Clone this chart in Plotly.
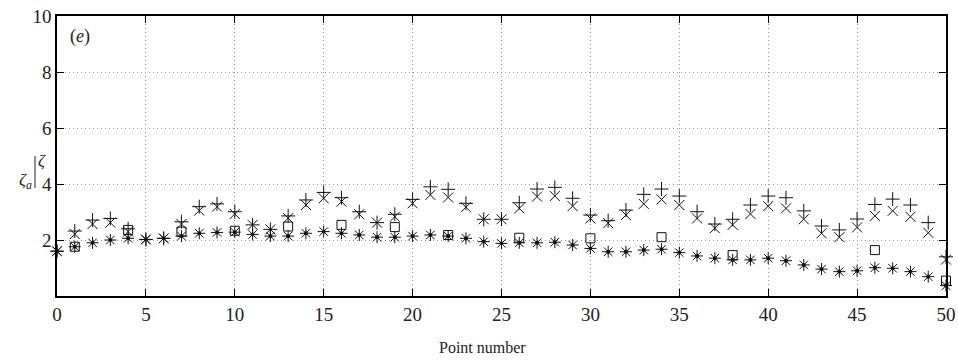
import plotly.graph_objects as go

point = list(range(51))

plus_vals = [1.60, 2.32, 2.71, 2.77, 2.40, 2.02, 2.06, 2.65, 3.19, 3.29,
             3.01, 2.54, 2.38, 2.86, 3.43, 3.70, 3.51, 3.01, 2.62, 2.92,
             3.45, 3.90, 3.81, 3.31, 2.74, 2.74, 3.33, 3.82, 3.88, 3.49,
             2.89, 2.69, 3.07, 3.63, 3.82, 3.57, 3.01, 2.57, 2.74, 3.25,
             3.57, 3.51, 3.04, 2.50, 2.36, 2.75, 3.27, 3.46, 3.25, 2.62,
             1.40]

cross_vals = [1.60, 2.21, 2.57, 2.62, 2.30, 2.02, 2.06, 2.57, 3.05, 3.19,
              2.93, 2.54, 2.38, 2.78, 3.25, 3.49, 3.37, 2.92, 2.62, 2.83,
              3.31, 3.61, 3.52, 3.17, 2.74, 2.74, 3.13, 3.55, 3.57, 3.21,
              2.77, 2.60, 2.89, 3.29, 3.45, 3.25, 2.77, 2.42, 2.54, 2.93,
              3.21, 3.13, 2.74, 2.24, 2.10, 2.45, 2.86, 3.04, 2.83, 2.26,
              1.30]

star_vals = [1.60, 1.76, 1.90, 2.00, 2.06, 2.02, 2.06, 2.14, 2.24, 2.27,
             2.28, 2.20, 2.14, 2.14, 2.24, 2.30, 2.24, 2.18, 2.10, 2.10,
             2.14, 2.18, 2.14, 2.06, 1.94, 1.88, 1.90, 1.90, 1.92, 1.82,
             1.70, 1.58, 1.58, 1.64, 1.67, 1.55, 1.43, 1.35, 1.29, 1.29,
             1.35, 1.26, 1.11, 0.96, 0.87, 0.90, 1.01, 0.99, 0.87, 0.69,
             0.37]

square_points = [1, 4, 7, 10, 13, 16, 19, 22, 26, 30, 34, 38, 46, 50]
square_vals = [1.76, 2.36, 2.30, 2.33, 2.48, 2.54, 2.46, 2.18, 2.08, 2.06,
               2.10, 1.46, 1.64, 0.55]

x_ticks = [0, 5, 10, 15, 20, 25, 30, 35, 40, 45, 50]
y_ticks = [2, 4, 6, 8, 10]

SERIF = "Liberation Serif"
TXT = "#222222"
BLACK = "#111111"

L, R, T, B = 57, 12, 16, 64
W, H = 958, 360
PW, PH = W - L - R, H - T - B


def px(xp):
    return (xp - L) / PW


def py(yp):
    return 1 - (yp - T) / PH


fig = go.Figure()


def add(x, y, symbol, size):
    fig.add_trace(go.Scatter(
        x=x, y=y, mode="markers", showlegend=False, cliponaxis=False,
        marker=dict(symbol=symbol, size=size, color=BLACK,
                    line=dict(color=BLACK, width=1)),
    ))


add(point, plus_vals, "cross-thin-open", 10)
add(point, cross_vals, "x-thin-open", 10)
add(point, star_vals, "asterisk-open", 10)
add(point, star_vals, "circle", 3)
add(square_points, square_vals, "square-open", 9)

axis_common = dict(
    showline=True, linecolor="black", linewidth=1.5, mirror="ticks",
    ticks="inside", ticklen=7, tickwidth=1.3, tickcolor="black",
    showgrid=True, gridcolor="#9a9a9a", gridwidth=1, griddash="1px,3px",
    zeroline=False, automargin=False,
)

fig.update_xaxes(range=[0, 50], tickvals=x_ticks, **axis_common,
                 tickfont=dict(family=SERIF, size=19, color=TXT))
fig.update_yaxes(range=[0, 10], tickvals=y_ticks, **axis_common,
                 tickfont=dict(family=SERIF, size=19, color=TXT))


def label(xp, yp, text, size):
    fig.add_annotation(x=px(xp), y=py(yp), xref="paper", yref="paper",
                       xanchor="center", yanchor="middle",
                       text=text, showarrow=False,
                       font=dict(family=SERIF, size=size, color=TXT))


label(482, 347, "Point number", 16)
label(80, 37, "(<i>e</i>)", 18)
label(42, 160, "<i>ζ</i>", 17)
label(26, 181, "<i>ζ<sub>a</sub></i>", 17)
fig.add_shape(type="line", xref="paper", yref="paper",
              x0=px(35), x1=px(35), y0=py(156), y1=py(188),
              line=dict(color=TXT, width=1))

fig.update_layout(
    width=W, height=H,
    margin=dict(l=L, r=R, t=T, b=B, autoexpand=False),
    paper_bgcolor="white", plot_bgcolor="white",
)

fig.write_html("out.html")
